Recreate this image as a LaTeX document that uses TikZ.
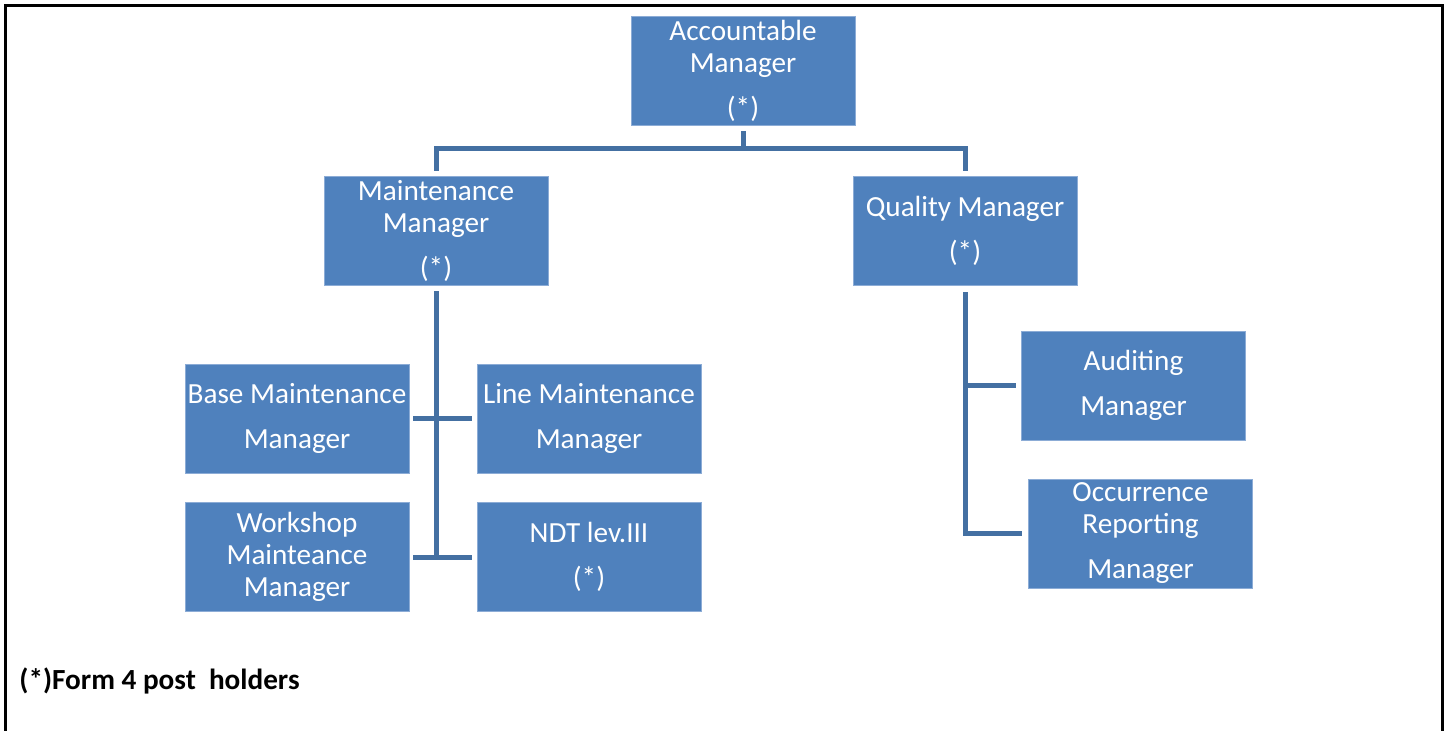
\documentclass[tikz,border=0pt]{standalone}
\usepackage{fontspec}
\setmainfont{Carlito}
\definecolor{boxblue}{RGB}{79,129,189}
\definecolor{boxedge}{RGB}{140,172,214}
\definecolor{linkblue}{RGB}{68,112,162}
\begin{document}
\begin{tikzpicture}[x=0.5pt,y=-0.5pt,
	box/.style={rectangle, fill=boxblue, draw=boxedge, line width=0.4pt, text=white, align=center, inner sep=0pt, minimum width=112pt, minimum height=54.5pt, font=\fontsize{14.6}{16}\selectfont},
	link/.style={draw=linkblue, line width=2.5pt},
	note/.style={font=\fontsize{14.6}{16}\selectfont\bfseries, anchor=west, inner sep=0pt}]
	\useasboundingbox (0,0) rectangle (1446,730);
	\draw[line width=1.5pt] (5,731) -- (5,5) -- (1442,5) -- (1442,731);

	\node[box] (b0) at (743,70.5) {Accountable\\Manager\\[6.5pt](*)};
	\node[box] (b1) at (436,230.5) {Maintenance\\Manager\\[6.5pt](*)};
	\node[box] (b2) at (965,230.5) {Quality Manager\\[6.5pt](*)};
	\node[box] (b3) at (297,418.5) {Base Maintenance\\[6.5pt]Manager};
	\node[box] (b4) at (589,418.5) {Line Maintenance\\[6.5pt]Manager};
	\node[box] (b5) at (297,557) {Workshop\\Mainteance\\Manager};
	\node[box] (b6) at (589,557) {NDT lev.III\\[6.5pt](*)};
	\node[box] (b7) at (1133.5,385.5) {Auditing\\[6.5pt]Manager};
	\node[box] (b8) at (1140.5,533.5) {Occurrence\\Reporting\\[6.5pt]Manager};

	\coordinate (j0) at (743,148);
	\coordinate (j1) at (436,555);

	\draw[link] ([yshift=-3pt]b0.south) -- (j0);
	\draw[link] ([yshift=2.5pt]b1.north) |- (j0) -| ([yshift=2.5pt]b2.north);
	\draw[link] ([yshift=-3pt]b1.south) -- (j1);
	\draw[link] ([xshift=2pt]b3.east) -- ([xshift=-2.5pt]b4.west);
	\draw[link] ([xshift=2pt]b5.east) -- ([xshift=-2.5pt]b6.west);
	\draw[link] ([yshift=-3.5pt]b2.south) |- ([xshift=-3pt]b8.west);
	\draw[link] (b2.south |- b7.west) -- ([xshift=-2.5pt]b7.west);

	\node[note] (f0) at (19,681) {(*)Form 4 post\ \ holders};
\end{tikzpicture}
\end{document}
